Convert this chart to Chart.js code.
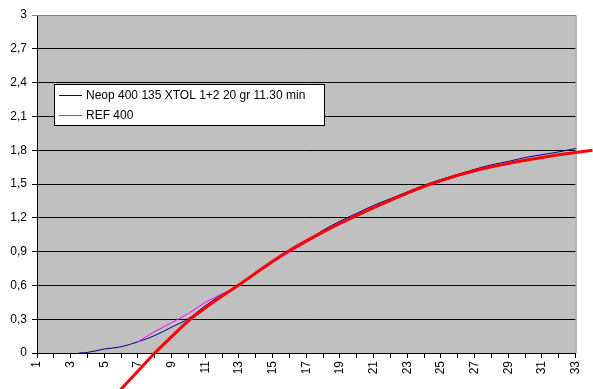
<!DOCTYPE html>
<html>
<head>
<meta charset="utf-8">
<script src="https://cdn.jsdelivr.net/npm/chart.js@4/dist/chart.umd.min.js"></script>
<style>
  html, body { margin: 0; padding: 0; background: #fff; }
  .chart-wrap { position: relative; width: 593px; height: 389px; }
</style>
</head>
<body>
<div class="chart-wrap"><canvas id="curve" width="593" height="389"></canvas></div>
<script>
// tick labels
const xTickLabels = ['1', '', '3', '', '5', '', '7', '', '9', '', '11', '', '13', '', '15', '', '17',
  '', '19', '', '21', '', '23', '', '25', '', '27', '', '29', '', '31', '', '33'];
const yTickLabels = ['0', '0,3', '0,6', '0,9', '1,2', '1,5', '1,8', '2,1', '2,4', '2,7', '3'];

// Neop 400 135 XTOL 1+2 20 gr 11.30 min
const neopX = [3.5, 4, 5, 6, 7, 8, 9, 10, 11, 12, 13, 14, 15, 16, 17, 18, 19, 20, 21, 22, 23, 24,
  25, 26, 27, 28, 29, 30, 31, 32, 33];
const neopY = [0, 0.005, 0.035, 0.055, 0.1, 0.155, 0.23, 0.305, 0.42, 0.52, 0.6, 0.71, 0.815,
  0.91, 0.995, 1.09, 1.17, 1.24, 1.31, 1.37, 1.43, 1.49, 1.54, 1.585, 1.63, 1.67, 1.70, 1.735,
  1.76, 1.785, 1.815];

// REF 400
const refX = [7, 8, 9, 10, 11, 12, 13, 14, 15, 16, 17, 18, 19, 20, 21, 22, 23, 24, 25, 26, 27,
  28, 29, 30, 31, 32, 33];
const refY = [0.1, 0.19, 0.27, 0.35, 0.45, 0.525, 0.6, 0.70, 0.80, 0.895, 0.98, 1.065, 1.145,
  1.215, 1.285, 1.355, 1.415, 1.475, 1.525, 1.57, 1.61, 1.645, 1.675, 1.705, 1.73, 1.755, 1.775];

// trend line (red), runs past the plot area
const trendX = [5.8, 6, 7, 8, 9, 10, 11, 12, 13, 14, 15, 16, 17, 18, 19, 20, 21, 22, 23, 24, 25,
  26, 27, 28, 29, 30, 31, 32, 33, 34];
const trendY = [-0.352, -0.32, -0.16, 0, 0.145, 0.285, 0.40, 0.505, 0.605, 0.71, 0.815, 0.91,
  0.995, 1.075, 1.15, 1.22, 1.29, 1.355, 1.42, 1.478, 1.53, 1.578, 1.618, 1.652, 1.683, 1.711,
  1.736, 1.759, 1.78, 1.80];

const toPoints = (xs, ys) => xs.map((x, i) => ({ x: x, y: ys[i] }));

Chart.defaults.font.family = '"Liberation Sans", Arial, sans-serif';
Chart.defaults.font.size = 12;
Chart.defaults.color = '#000';

// grey plot area + grey frame on top/right
const plotFrame = {
  id: 'plotFrame',
  beforeDraw(chart) {
    const a = chart.chartArea;
    const ctx = chart.ctx;
    ctx.save();
    ctx.fillStyle = '#c0c0c0';
    ctx.fillRect(a.left, a.top, a.right - a.left, a.bottom - a.top);
    ctx.restore();
  },
  beforeDatasetsDraw(chart) {
    const a = chart.chartArea;
    const ctx = chart.ctx;
    ctx.save();
    ctx.strokeStyle = '#808080';
    ctx.lineWidth = 1;
    ctx.beginPath();
    ctx.moveTo(a.left, a.top + 0.5);
    ctx.lineTo(a.right + 0.5, a.top + 0.5);
    ctx.lineTo(a.right + 0.5, a.bottom);
    ctx.stroke();
    ctx.restore();
  }
};

// boxed legend inside the plot, like the original
const boxLegend = {
  id: 'boxLegend',
  afterDraw(chart) {
    const ctx = chart.ctx;
    const items = chart.data.datasets.filter(d => d.inLegend);
    ctx.save();
    ctx.fillStyle = '#fff';
    ctx.fillRect(54.5, 84.5, 270, 41);
    ctx.strokeStyle = '#000';
    ctx.lineWidth = 1;
    ctx.strokeRect(54.5, 84.5, 270, 41);
    ctx.font = '12px "Liberation Sans", Arial, sans-serif';
    ctx.textBaseline = 'middle';
    items.forEach((d, i) => {
      const y = 95.5 + i * 20;
      ctx.strokeStyle = d.borderColor;
      ctx.beginPath();
      ctx.moveTo(59, y);
      ctx.lineTo(82, y);
      ctx.stroke();
      ctx.fillStyle = '#000';
      ctx.fillText(d.label, 86, y + 0.5);
    });
    ctx.restore();
  }
};

new Chart(document.getElementById('curve'), {
  type: 'line',
  data: {
    datasets: [
      {
        label: 'Neop 400 135 XTOL 1+2 20 gr 11.30 min',
        data: toPoints(neopX, neopY),
        borderColor: '#000080',
        borderWidth: 1,
        pointRadius: 0,
        cubicInterpolationMode: 'monotone',
        order: 2,
        inLegend: true
      },
      {
        label: 'REF 400',
        data: toPoints(refX, refY),
        borderColor: '#ff00ff',
        borderWidth: 1,
        pointRadius: 0,
        cubicInterpolationMode: 'monotone',
        order: 1,
        inLegend: true
      },
      {
        label: 'Trend',
        data: toPoints(trendX, trendY),
        borderColor: '#ff0000',
        borderWidth: 3,
        pointRadius: 0,
        cubicInterpolationMode: 'monotone',
        clip: false,
        order: 0
      }
    ]
  },
  options: {
    responsive: false,
    animation: false,
    layout: { padding: { top: 15, right: 17, left: 0, bottom: 0 } },
    plugins: {
      legend: { display: false },
      tooltip: { enabled: false }
    },
    scales: {
      x: {
        type: 'linear',
        // set bounds here (not min/max) so the trend line is not cut at 33
        afterDataLimits: s => { s.min = 1; s.max = 33; },
        afterFit: s => { s.height = 36; },
        grid: { drawOnChartArea: false, color: '#000', tickLength: 5 },
        border: { color: '#000' },
        ticks: {
          stepSize: 1,
          autoSkip: false,
          minRotation: 90,
          maxRotation: 90,
          padding: 3,
          callback: v => xTickLabels[Math.round(v) - 1]
        }
      },
      y: {
        min: 0,
        max: 3,
        afterFit: s => { s.width = 37; },
        grid: {
          color: c => (c.tick && c.tick.value >= 2.99 ? '#808080' : '#000'),
          tickLength: 5
        },
        border: { color: '#000' },
        ticks: {
          stepSize: 0.3,
          padding: 5,
          callback: v => yTickLabels[Math.round(v / 0.3)]
        }
      }
    }
  },
  plugins: [plotFrame, boxLegend]
});
</script>
</body>
</html>
